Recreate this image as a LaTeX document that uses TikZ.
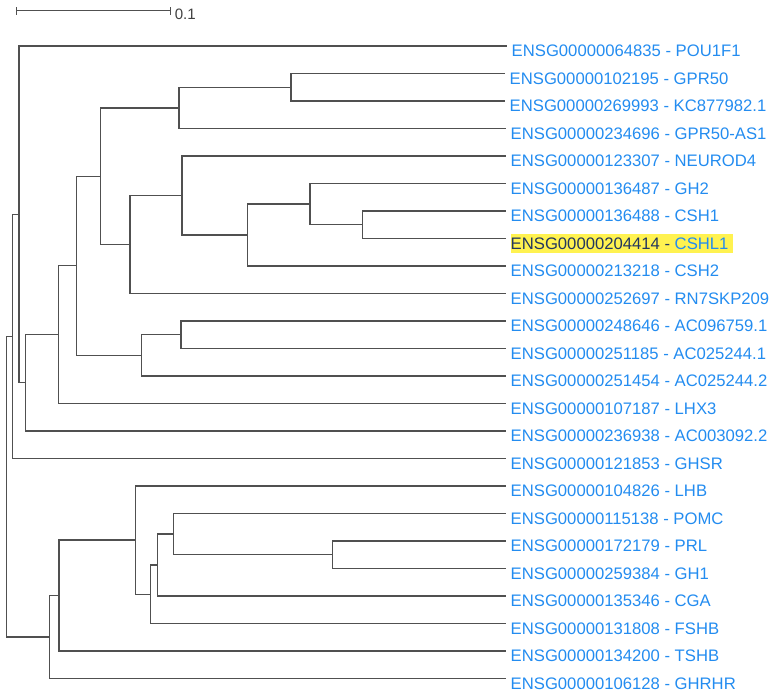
\documentclass[tikz,border=0pt]{standalone}
\usepackage{fontspec}
\setmainfont{Liberation Sans}
\definecolor{lbl}{RGB}{35,140,240}
\definecolor{br}{RGB}{80,80,80}
\definecolor{hl}{RGB}{255,242,80}
\definecolor{dk}{RGB}{35,55,95}
\begin{document}
\begin{tikzpicture}[x=0.75pt,y=-0.75pt,
  branch/.style={draw=br,line width=0.95pt,line cap=rect},
  leaflabel/.style={anchor=base west,inner sep=0pt,xshift=4.1pt,yshift=-7.9pt,text=lbl,font=\fontsize{12.5pt}{14pt}\selectfont},
  sclabel/.style={anchor=base west,inner sep=0pt,text=br!80!black,font=\fontsize{11.3pt}{13pt}\selectfont}]
\useasboundingbox (0,0) rectangle (782,699);
% scale bar
\coordinate (sbL) at (16.7,10.7);
\coordinate (sbR) at (170.3,10.7);
\draw[branch] (sbL) -- (sbR);
\draw[branch] ([yshift=2.5pt]sbL) -- ([yshift=-2.5pt]sbL);
\draw[branch] ([yshift=2.5pt]sbR) -- ([yshift=-2.5pt]sbR);
\node[sclabel] (sblab) at (174.5,19.3) {0.1};
% highlight
\fill[hl] (511,234) rectangle (732.5,253.3);
% leaf ends
\coordinate (e0) at (506,46);
\coordinate (e1) at (504,73.5);
\coordinate (e2) at (504,101);
\coordinate (e3) at (505,128.5);
\coordinate (e4) at (505,156);
\coordinate (e5) at (505,183.5);
\coordinate (e6) at (505,211);
\coordinate (e7) at (505,238.5);
\coordinate (e8) at (505,266);
\coordinate (e9) at (505,293.5);
\coordinate (e10) at (505,321);
\coordinate (e11) at (505,348.5);
\coordinate (e12) at (505,376);
\coordinate (e13) at (505,403.5);
\coordinate (e14) at (505,431);
\coordinate (e15) at (505,458.5);
\coordinate (e16) at (505,486);
\coordinate (e17) at (505,513.5);
\coordinate (e18) at (505,541);
\coordinate (e19) at (505,568.5);
\coordinate (e20) at (505,596);
\coordinate (e21) at (505,623.5);
\coordinate (e22) at (505,651);
\coordinate (e23) at (505,678.5);
% labels
\node[leaflabel] (l0) at (e0) {ENSG00000064835 - POU1F1};
\node[leaflabel] (l1) at (e1) {ENSG00000102195 - GPR50};
\node[leaflabel] (l2) at (e2) {ENSG00000269993 - KC877982.1};
\node[leaflabel] (l3) at (e3) {ENSG00000234696 - GPR50-AS1};
\node[leaflabel] (l4) at (e4) {ENSG00000123307 - NEUROD4};
\node[leaflabel] (l5) at (e5) {ENSG00000136487 - GH2};
\node[leaflabel] (l6) at (e6) {ENSG00000136488 - CSH1};
\node[leaflabel] (l7) at (e7) {\textcolor{dk}{ENSG00000204414 -} CSHL1};
\node[leaflabel] (l8) at (e8) {ENSG00000213218 - CSH2};
\node[leaflabel] (l9) at (e9) {ENSG00000252697 - RN7SKP209};
\node[leaflabel] (l10) at (e10) {ENSG00000248646 - AC096759.1};
\node[leaflabel] (l11) at (e11) {ENSG00000251185 - AC025244.1};
\node[leaflabel] (l12) at (e12) {ENSG00000251454 - AC025244.2};
\node[leaflabel] (l13) at (e13) {ENSG00000107187 - LHX3};
\node[leaflabel] (l14) at (e14) {ENSG00000236938 - AC003092.2};
\node[leaflabel] (l15) at (e15) {ENSG00000121853 - GHSR};
\node[leaflabel] (l16) at (e16) {ENSG00000104826 - LHB};
\node[leaflabel] (l17) at (e17) {ENSG00000115138 - POMC};
\node[leaflabel] (l18) at (e18) {ENSG00000172179 - PRL};
\node[leaflabel] (l19) at (e19) {ENSG00000259384 - GH1};
\node[leaflabel] (l20) at (e20) {ENSG00000135346 - CGA};
\node[leaflabel] (l21) at (e21) {ENSG00000131808 - FSHB};
\node[leaflabel] (l22) at (e22) {ENSG00000134200 - TSHB};
\node[leaflabel] (l23) at (e23) {ENSG00000106128 - GHRHR};
% internal nodes
\coordinate (nK) at (291,87.25);
\coordinate (nI) at (179,107.9);
\coordinate (nO) at (362.3,224.75);
\coordinate (nN) at (310,204.1);
\coordinate (nM) at (247.7,235.1);
\coordinate (nL) at (182,195.5);
\coordinate (nJ) at (130,244.5);
\coordinate (nG) at (100.7,176.2);
\coordinate (nP) at (181,334.75);
\coordinate (nH) at (141.7,355.4);
\coordinate (nF) at (76.7,265.8);
\coordinate (nE) at (58.3,334.6);
\coordinate (nD) at (25.3,382.8);
\coordinate (nC) at (19,214.4);
\coordinate (nB) at (12.3,336.5);
\coordinate (nW) at (332.3,554.75);
\coordinate (nV) at (173.3,534.1);
\coordinate (nU) at (157.3,565.1);
\coordinate (nT) at (150.3,594.3);
\coordinate (nS) at (135.3,540.1);
\coordinate (nR) at (59,595.6);
\coordinate (nQ) at (49.3,637);
\coordinate (root) at (6.3,486.7);
% branches
\draw[branch] (root) |- (nB);
\draw[branch] (root) |- (nQ);
\draw[branch] (nB) |- (nC);
\draw[branch] (nB) |- (e15);
\draw[branch] (nC) |- (e0);
\draw[branch] (nC) |- (nD);
\draw[branch] (nD) |- (nE);
\draw[branch] (nD) |- (e14);
\draw[branch] (nE) |- (nF);
\draw[branch] (nE) |- (e13);
\draw[branch] (nF) |- (nG);
\draw[branch] (nF) |- (nH);
\draw[branch] (nG) |- (nI);
\draw[branch] (nG) |- (nJ);
\draw[branch] (nI) |- (nK);
\draw[branch] (nI) |- (e3);
\draw[branch] (nK) |- (e1);
\draw[branch] (nK) |- (e2);
\draw[branch] (nJ) |- (nL);
\draw[branch] (nJ) |- (e9);
\draw[branch] (nL) |- (e4);
\draw[branch] (nL) |- (nM);
\draw[branch] (nM) |- (nN);
\draw[branch] (nM) |- (e8);
\draw[branch] (nN) |- (e5);
\draw[branch] (nN) |- (nO);
\draw[branch] (nO) |- (e6);
\draw[branch] (nO) |- (e7);
\draw[branch] (nH) |- (nP);
\draw[branch] (nH) |- (e12);
\draw[branch] (nP) |- (e10);
\draw[branch] (nP) |- (e11);
\draw[branch] (nQ) |- (nR);
\draw[branch] (nQ) |- (e23);
\draw[branch] (nR) |- (nS);
\draw[branch] (nR) |- (e22);
\draw[branch] (nS) |- (e16);
\draw[branch] (nS) |- (nT);
\draw[branch] (nT) |- (nU);
\draw[branch] (nT) |- (e21);
\draw[branch] (nU) |- (nV);
\draw[branch] (nU) |- (e20);
\draw[branch] (nV) |- (e17);
\draw[branch] (nV) |- (nW);
\draw[branch] (nW) |- (e18);
\draw[branch] (nW) |- (e19);
\end{tikzpicture}
\end{document}
